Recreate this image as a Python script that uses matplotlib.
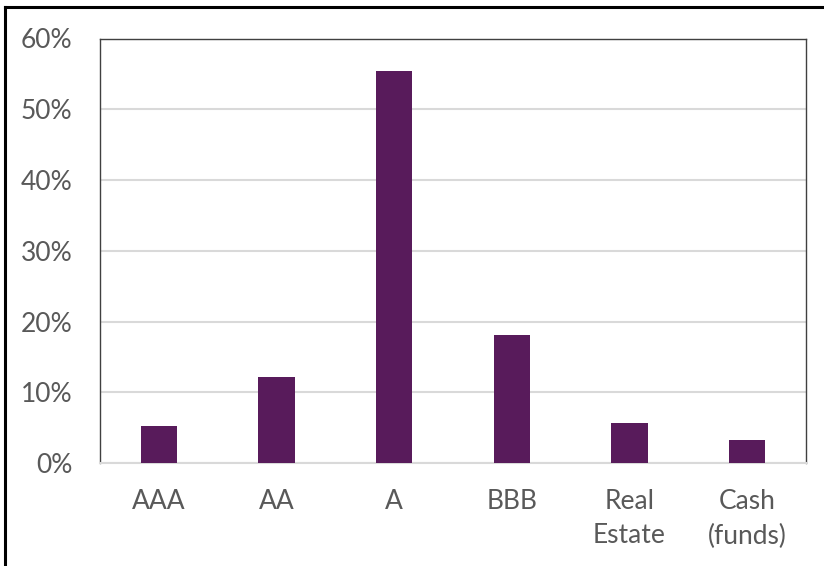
import matplotlib
matplotlib.use("Agg")
import matplotlib.pyplot as plt
from matplotlib.lines import Line2D
from matplotlib.ticker import FuncFormatter

# Values (share of portfolio, %)
categories = ['AAA', 'AA', 'A', 'BBB', 'Real\nEstate', 'Cash\n(funds)']
shares = [5.2, 12.1, 55.4, 18.1, 5.6, 3.3]
y_ticks = [0, 10, 20, 30, 40, 50, 60]

bar_color = '#581B5B'
text_color = '#595959'
grid_color = '#D9D9D9'

plt.rcParams['font.family'] = ['Lato', 'DejaVu Sans']

fig = plt.figure(figsize=(8.24, 5.66), dpi=100)
ax = fig.add_axes([100 / 824, 1 - 463 / 566, 706 / 824, (463 - 38.5) / 566])

x = range(len(categories))
ax.bar(x, shares, width=0.31, color=bar_color, zorder=3)

ax.set_xlim(-0.5, len(categories) - 0.5)
ax.set_ylim(0, 60)
ax.set_yticks(y_ticks)
ax.yaxis.set_major_formatter(FuncFormatter(lambda v, p: f'{v:.0f}%'))
ax.set_xticks(list(x))
ax.set_xticklabels(categories, linespacing=1.45)

ax.grid(axis='y', color=grid_color, linewidth=1.5, zorder=0)
ax.tick_params(axis='both', length=0, labelsize=19, colors=text_color)
ax.tick_params(axis='y', pad=20)
ax.tick_params(axis='x', pad=19)

for side in ['left', 'top', 'right']:
    ax.spines[side].set_color('#404040')
    ax.spines[side].set_linewidth(1.0)
ax.spines['bottom'].set_color(grid_color)
ax.spines['bottom'].set_linewidth(1.5)

# outer frame (left and top edges visible in the reference)
fig.add_artist(Line2D([4.5 / 824, 4.5 / 824], [0, 1 - 7 / 566], transform=fig.transFigure,
                      color='black', linewidth=2.2))
fig.add_artist(Line2D([4.5 / 824, 1], [1 - 7 / 566, 1 - 7 / 566], transform=fig.transFigure,
                      color='black', linewidth=2.2))

fig.savefig('out.png', dpi=100)
